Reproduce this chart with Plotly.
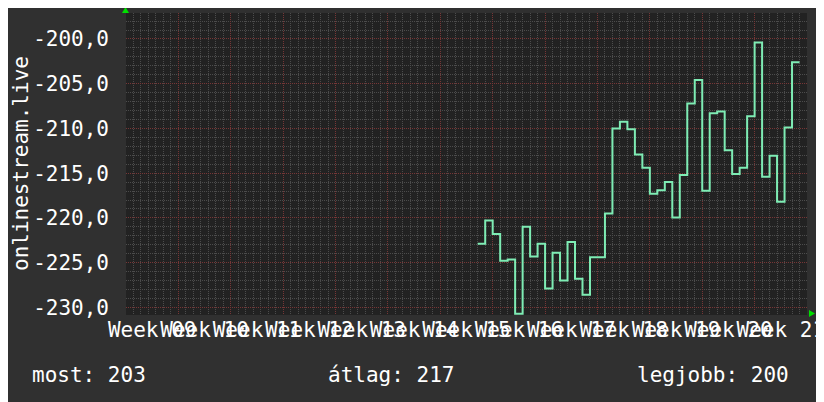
import pandas as pd
import plotly.graph_objs as go

# daily ping values (plotted negated, like the rrd graph), first day 2024-04-13
first_day = '2024-04-13'
ping = [
    -222.9, -220.3, -221.8, -224.8, -224.65, -230.7, -221.0, -224.3, -222.9, -227.9,
    -223.9, -227.0, -222.7, -226.8, -228.6, -224.4, -224.4, -219.5, -210.0, -209.25,
    -210.1, -212.9, -214.4, -217.3, -216.9, -216.0, -219.95, -215.2, -207.2, -204.6,
    -216.97, -208.3, -208.1, -212.45, -215.1, -214.4, -208.65, -200.4, -215.4, -213.05,
    -218.2, -209.9, -202.6,
]
y_ticks = [-200, -205, -210, -215, -220, -225, -230]
x_range = ['2024-02-26', '2024-05-27']
y_range = [-230.85, -197.1]
y_title = 'onlinestream.live'

days = list(pd.date_range(first_day, periods=len(ping) + 1, freq='D'))
# repeat last value so the last step gets its full day
values = ping + [ping[-1]]

most = -ping[-1]
atlag = -sum(ping) / len(ping)
legjobb = -max(ping)

FONT = 'DejaVu Sans Mono'
# the page body has an 8px margin, so the figure is shifted by that much
OFF = 8
W, H = 824 - OFF, 402 - OFF
L, R, T, B = 126 - OFF, 17, 13 - OFF, 87


def px(x, y):
    # screen pixel position -> paper coordinates
    x, y = x - OFF, y - OFF
    return (x - L) / (W - L - R), (H - B - y) / (H - T - B)


trace = go.Scatter(
    x=days,
    y=values,
    mode='lines',
    line=dict(shape='hv', color='#7eecb4', width=2),
    hoverinfo='skip',
    showlegend=False
)

annots = []
for text, x0 in [('most: %.0f' % most, 30), ('átlag: %.0f' % atlag, 326),
                 ('legjobb: %.0f' % legjobb, 635)]:
    ax, ay = px(x0, 375)
    annots.append(dict(
        text=text, x=ax, y=ay, xref='paper', yref='paper',
        xanchor='left', yanchor='middle', showarrow=False,
        font=dict(family=FONT, size=21, color='#ffffff')
    ))

# y axis title placed by hand, rrdtool style
tx, ty = px(8, 164)
annots.append(dict(
    text=y_title, x=tx, y=ty, xref='paper', yref='paper', textangle=-90,
    xanchor='left', yanchor='middle', showarrow=False, borderpad=0,
    font=dict(family=FONT, size=21, color='#ffffff')
))

# little green arrows at the axis ends
a = [px(122, 13), px(125.5, 7), px(129, 13)]
b = [px(809, 310), px(815, 313.5), px(809, 317)]
shapes = []
for pts in (a, b):
    path = 'M %f %f L %f %f L %f %f Z' % (pts[0] + pts[1] + pts[2])
    shapes.append(dict(type='path', path=path, xref='paper', yref='paper',
                       fillcolor='#00e000', line=dict(width=0)))

layout = go.Layout(
    width=W,
    height=H,
    margin=dict(l=L, r=R, t=T, b=B),
    paper_bgcolor='#303030',
    plot_bgcolor='#222222',
    font=dict(family=FONT, size=21, color='#ffffff'),
    xaxis=dict(
        type='date',
        range=x_range,
        tick0=x_range[0],
        dtick=7 * 86400000,
        tickformat='Week %V',
        ticklabelmode='period',
        ticklabeloverflow='allow',
        tickangle=0,
        ticks='',
        ticklabelstandoff=0,
        showgrid=True,
        gridcolor='#763636',
        griddash='1px,1px',
        gridwidth=1,
        minor=dict(dtick=86400000, showgrid=True, gridcolor='#4c4c4c',
                   griddash='1px,1px', gridwidth=1),
        zeroline=False,
        showline=False,
        automargin=False,
        fixedrange=True
    ),
    yaxis=dict(
        range=y_range,
        tickvals=y_ticks,
        ticktext=[('%.1f' % v).replace('.', ',') for v in y_ticks],
        ticks='',
        ticklabelstandoff=16,
        showgrid=True,
        gridcolor='#763636',
        griddash='1px,1px',
        gridwidth=1,
        minor=dict(dtick=1, tick0=-200, showgrid=True, gridcolor='#4c4c4c',
                   griddash='1px,1px', gridwidth=1),
        zeroline=False,
        showline=False,
        automargin=False,
        fixedrange=True
    ),
    annotations=annots,
    shapes=shapes
)

fig = go.Figure(data=[trace], layout=layout)
fig.write_html('out.html')
